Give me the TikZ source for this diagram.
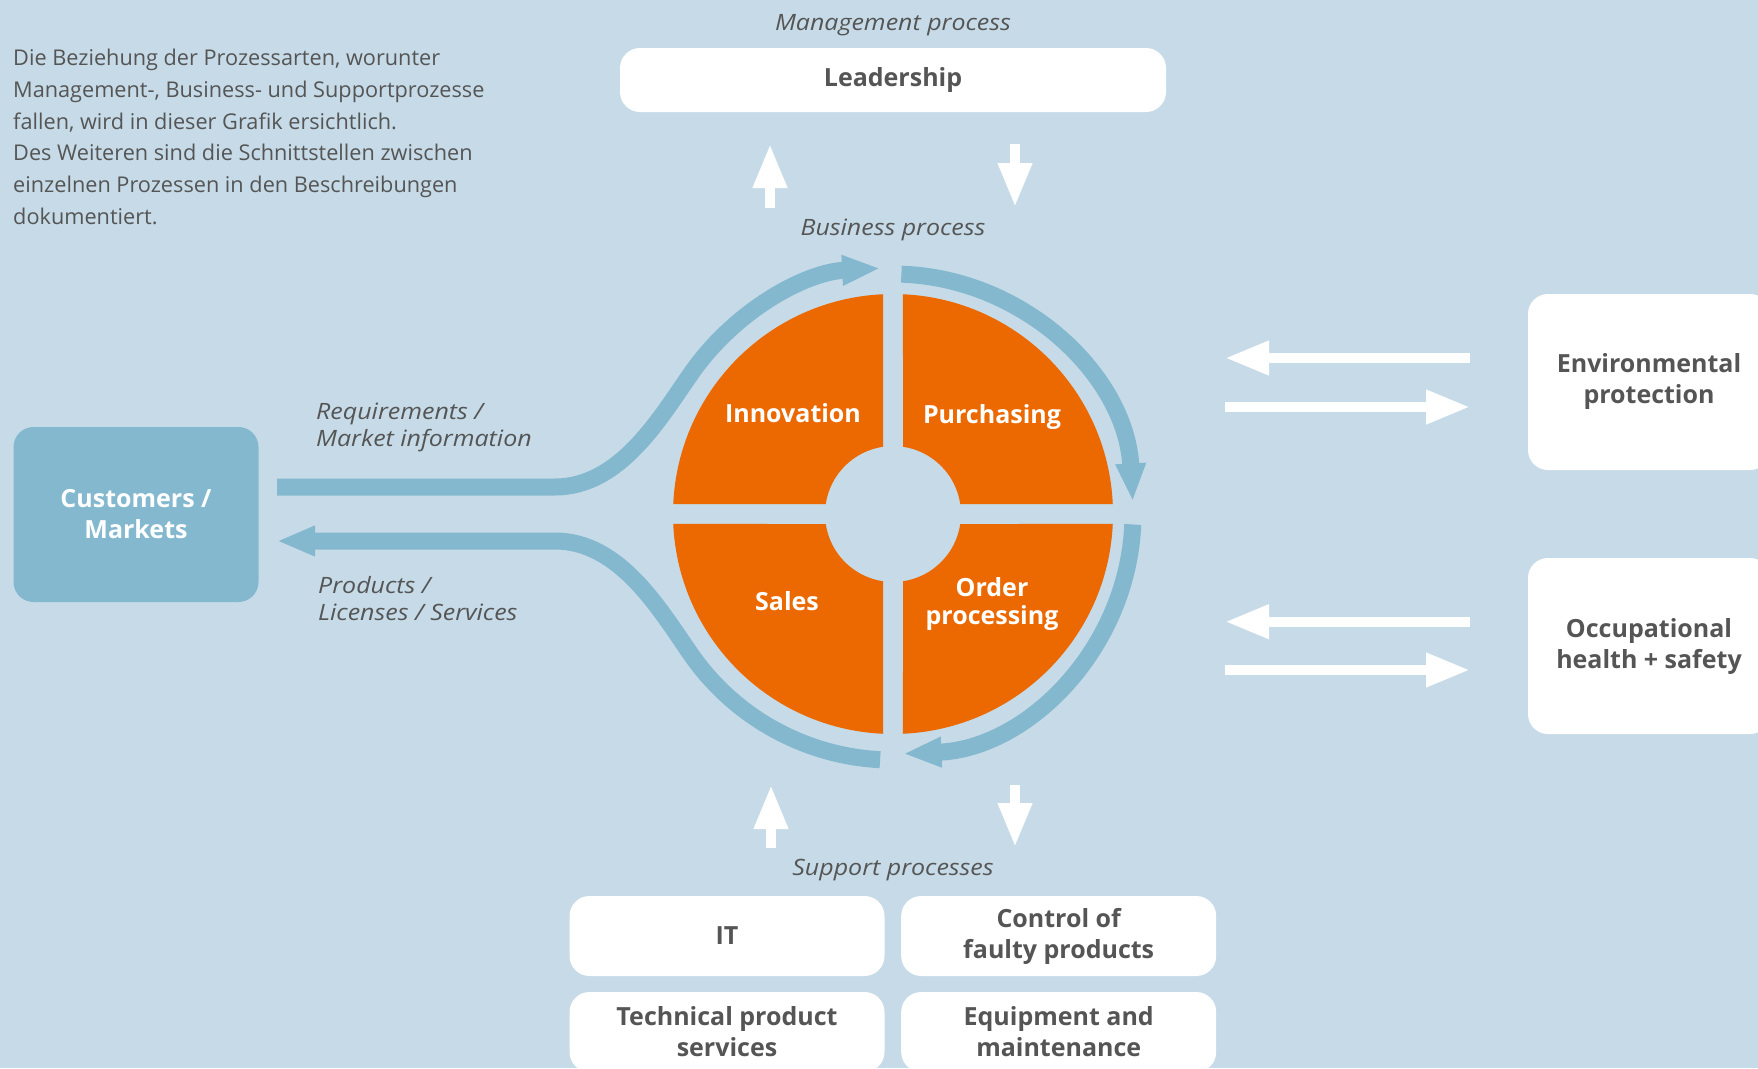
\documentclass[tikz,border=0pt]{standalone}
\usepackage{fontspec}
\setmainfont{Open Sans}
\newfontfamily\widefont[FakeStretch=1.11]{Open Sans}
\usetikzlibrary{arrows.meta}

\definecolor{bgblue}{RGB}{198,219,231}
\definecolor{flowblue}{RGB}{132,184,207}
\definecolor{procorange}{RGB}{235,105,0}
\definecolor{textgray}{RGB}{85,85,85}

\begin{document}
\begin{tikzpicture}[x=1pt,y=1pt,
	box/.style={fill=white, rounded corners=20pt, text=textgray, align=center, inner sep=0pt, font=\fontsize{25}{31}\selectfont\bfseries},
	caption/.style={text=textgray, inner sep=0pt, font=\widefont\fontsize{22.5}{27}\selectfont\itshape},
	flowlabel/.style={text=textgray, align=left, inner sep=0pt, anchor=north west, font=\widefont\fontsize{22.5}{26.7}\selectfont\itshape},
	quadlabel/.style={text=white, align=center, inner sep=0pt, font=\fontsize{25}{28.5}\selectfont\bfseries},
	flow/.style={draw=flowblue, line width=17pt},
	flowtip/.style={-{Triangle[length=38pt, width=28pt]}},
	whitearrow/.style={draw=white, line width=10pt, -{Triangle[length=44pt, width=32pt]}}]

	\fill[bgblue] (0,0) rectangle (1758,-1068);
	\clip (0,0) rectangle (1758,-1068);

	\coordinate (c) at (893,-514);

	% intro text
	\node[anchor=north west, align=left, inner sep=0pt, text=textgray, font=\fontsize{21.7}{31.7}\selectfont] (intro) at (13,-49)
		{Die Beziehung der Prozessarten, worunter\\
		Management-, Business- und Supportprozesse\\
		fallen, wird in dieser Grafik ersichtlich.\\
		Des Weiteren sind die Schnittstellen zwischen\\
		einzelnen Prozessen in den Beschreibungen\\
		dokumentiert.};

	% management
	\node[caption, anchor=base] (mgmt) at (893,-30) {Management process};
	\node[box, minimum width=546pt, minimum height=64pt] (lead) at (893,-80) {Leadership};

	\coordinate (leadin) at (770,-208);
	\coordinate (leadin') at (770,-144);
	\coordinate (leadout) at (1015,-144);
	\coordinate (leadout') at (1015,-207);
	\draw[whitearrow] (leadin) -- (leadin');
	\draw[whitearrow] (leadout) -- (leadout');

	\node[caption, anchor=base] (bus) at (893,-235) {Business process};

	% the four quarters
	\foreach \a in {0,90,180,270}
		\fill[procorange, shift={(c)}] (\a+87.4:220) arc[start angle=\a+87.4, end angle=\a+2.6, radius=220]
			-- (\a+8.46:68) arc[start angle=\a+8.46, end angle=\a+81.54, radius=68] -- cycle;

	\node[quadlabel, anchor=base] (innov) at (793,-422.3) {Innovation};
	\node[quadlabel, anchor=base] (purch) at (992,-423.3) {Purchasing};
	\node[quadlabel, anchor=base] (sales) at (787,-610.7) {Sales};
	\node[quadlabel] (order) at (992,-604) {Order\\processing};

	% customers and the flows in and out
	\node[box, fill=flowblue, text=white, minimum width=245pt, minimum height=175pt] (cust) at (136,-514.5) {Customers /\\Markets};

	\coordinate (reqstart) at (277,-487);
	\coordinate (prodend) at (277,-541);

	\draw[flow, flowtip] (reqstart) -- (555,-487) .. controls (620,-487) and (660,-418) .. (691.5,-372.9)
		arc[start angle=145, end angle=93, radius=246];
	\draw[flow, flowtip] (880.1,-759.7) arc[start angle=267, end angle=215, radius=246]
		.. controls (660,-610) and (620,-541) .. (555,-541) -- (prodend);

	\draw[flow, flowtip, shift={(c)}] (88:240) arc[start angle=88, end angle=3, radius=240];
	\draw[flow, flowtip, shift={(c)}] (-2.5:240) arc[start angle=-2.5, end angle=-87.5, radius=240];

	\node[flowlabel] (req) at (316,-403) {Requirements /\\Market information};
	\node[flowlabel] (prod) at (318,-576) {Products /\\Licenses / Services};

	% environment and safety
	\node[box, minimum width=242pt, minimum height=176pt] (env) at (1649,-382) {Environmental\\protection};
	\node[box, minimum width=242pt, minimum height=176pt] (occ) at (1649,-646) {Occupational\\health + safety};

	\coordinate (envin) at (1470,-358);
	\coordinate (envin') at (1225,-358);
	\coordinate (envout) at (1225,-407);
	\coordinate (envout') at (1470,-407);
	\coordinate (occin) at (1470,-621.7);
	\coordinate (occin') at (1225,-621.7);
	\coordinate (occout) at (1225,-670);
	\coordinate (occout') at (1470,-670);
	\draw[whitearrow] (envin) -- (envin');
	\draw[whitearrow] (envout) -- (envout');
	\draw[whitearrow] (occin) -- (occin');
	\draw[whitearrow] (occout) -- (occout');

	% support
	\coordinate (suppin) at (771,-848);
	\coordinate (suppin') at (771,-785);
	\coordinate (suppout) at (1015,-785);
	\coordinate (suppout') at (1015,-847);
	\draw[whitearrow] (suppin) -- (suppin');
	\draw[whitearrow] (suppout) -- (suppout');

	\node[caption, anchor=base] (supp) at (893,-875) {Support processes};

	\node[box, minimum width=315pt, minimum height=80pt] (it) at (727,-936) {IT};
	\node[box, minimum width=315pt, minimum height=80pt] (faulty) at (1058.7,-936) {Control of\\faulty products};
	\node[box, minimum width=315pt, minimum height=80pt] (tech) at (727,-1032) {Technical product\\services};
	\node[box, minimum width=315pt, minimum height=80pt] (equip) at (1058.7,-1032) {Equipment and\\maintenance};

\end{tikzpicture}
\end{document}
